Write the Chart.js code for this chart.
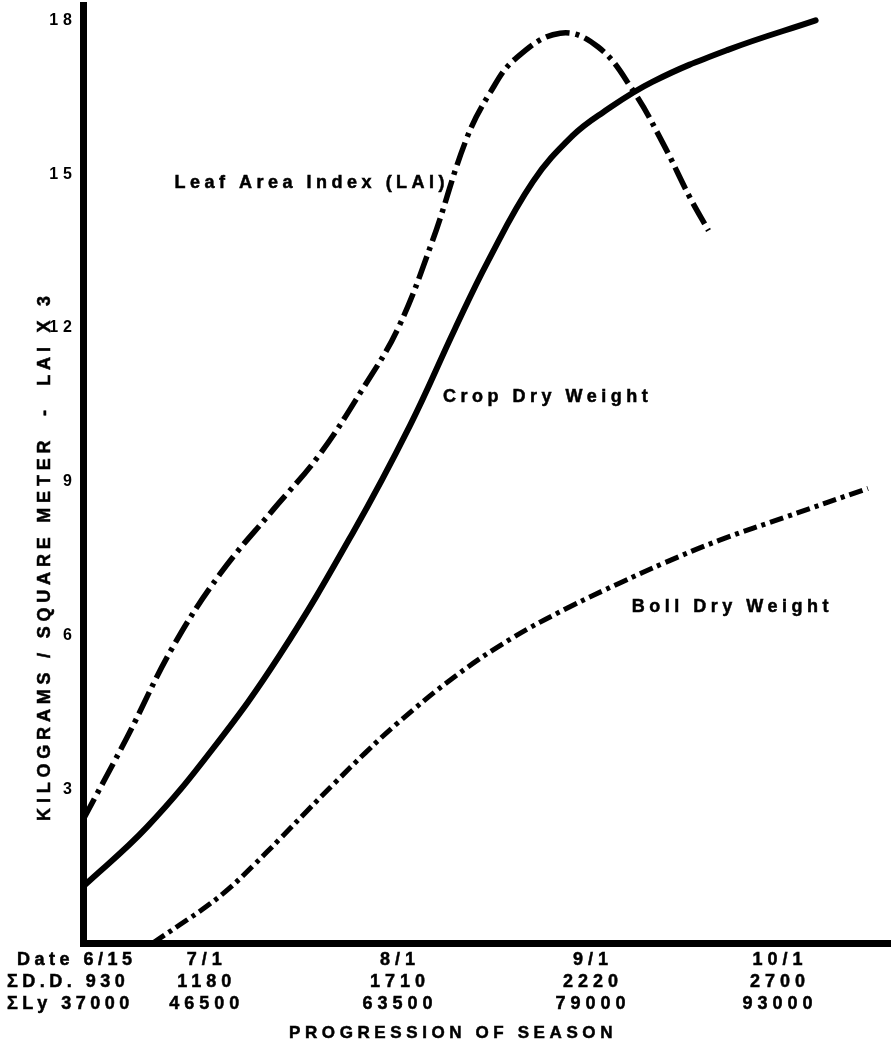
<!DOCTYPE html>
<html>
<head>
<meta charset="utf-8">
<script src="https://cdn.jsdelivr.net/npm/chart.js@4.4.1/dist/chart.umd.min.js"></script>
<style>
  html, body { margin: 0; padding: 0; background: #fff; }
  #wrap { width: 891px; height: 1048px; }
</style>
</head>
<body>
<div id="wrap"><canvas id="chart" width="891" height="1048"></canvas></div>
<script>
const FONT = "'Liberation Sans', Arial, sans-serif";

// x is days since 6/15
const tickDays = [0, 16, 47, 78, 108];
const dateLabels = ["6/15", "7/1", "8/1", "9/1", "10/1"];
const degreeDays = ["930", "1180", "1710", "2220", "2700"];
const langleys = ["37000", "46500", "63500", "79000", "93000"];
const yTicks = [3, 6, 9, 12, 15, 18];

const cropDays = [-3.4, 6.85, 17.5, 28.2, 39.9, 49.1, 56.3, 61.6, 68.8, 75.2, 80, 88, 100, 114.2];
const cropDry  = [1.1, 2.26, 3.8, 5.62, 8.0, 10.1, 11.98, 13.3, 14.85, 15.75, 16.2, 16.8, 17.42, 18.0];

const laiDays = [-3.4, 3.7, 11.0, 18.6, 27.1, 34.4, 41.7, 47.2, 52.7, 58.2, 62, 66, 73.2, 79.3, 84.9, 89.7, 94, 97];
const lai      = [2.4, 4.02, 5.77, 7.2, 8.45, 9.5, 10.85, 12.0, 13.7, 15.7, 16.6, 17.25, 17.75, 17.48, 16.63, 15.6, 14.55, 13.9];

const bollDays = [7.8, 12.2, 16.5, 20.2, 24, 28.2, 32.6, 37, 42, 47, 56.3, 65.5, 74.6, 82.7, 90, 98.8, 109.6, 122.6];
const boll     = [0, 0.36, 0.72, 1.08, 1.52, 2.03, 2.58, 3.12, 3.72, 4.28, 5.2, 5.95, 6.55, 7.02, 7.42, 7.86, 8.32, 8.87];

const seriesNames = ["Crop Dry Weight", "Leaf Area Index (LAI)", "Boll Dry Weight"];

// where the curve names sit (data units)
const curveLabels = [
  { text: "Leaf Area Index (LAI)", x: 11.3, y: 14.82 },
  { text: "Crop Dry Weight", x: 54.4, y: 10.65 },
  { text: "Boll Dry Weight", x: 84.7, y: 6.55 }
];

const toPts = (xs, ys) => xs.map((x, i) => ({ x: x, y: ys[i] }));

function spacedText(ctx, text, x, y, spacing, align) {
  ctx.save();
  ctx.letterSpacing = spacing + "px";
  ctx.textAlign = align || "left";
  ctx.fillText(text, x, y);
  ctx.strokeText(text, x, y);
  ctx.restore();
}

const textPlugin = {
  id: "textPlugin",
  beforeDraw(chart) {
    chart.ctx.letterSpacing = "5px";
  },
  afterDraw(chart) {
    const ctx = chart.ctx;
    const xs = chart.scales.x;
    const ys = chart.scales.y;
    const area = chart.chartArea;
    ctx.save();
    ctx.letterSpacing = "0px";
    ctx.fillStyle = "#000";
    ctx.strokeStyle = "#000";
    ctx.lineWidth = 0.5;
    ctx.textBaseline = "middle";
    ctx.font = "bold 18px " + FONT;

    // bottom table of labels
    const rows = [area.bottom + 17, area.bottom + 39, area.bottom + 61];
    spacedText(ctx, "Date " + dateLabels[0], area.left - 66, rows[0], 4.5);
    spacedText(ctx, "\u03A3D.D. " + degreeDays[0], area.left - 76, rows[1], 4.5);
    spacedText(ctx, "\u03A3Ly " + langleys[0], area.left - 76, rows[2], 4.5);
    for (let i = 1; i < tickDays.length; i++) {
      const px = xs.getPixelForValue(tickDays[i]) + 3;
      spacedText(ctx, dateLabels[i], px, rows[0], 5, "center");
      spacedText(ctx, degreeDays[i], px, rows[1], 5, "center");
      spacedText(ctx, langleys[i], px, rows[2], 5, "center");
    }
    ctx.font = "bold 17px " + FONT;
    spacedText(ctx, "PROGRESSION OF SEASON", xs.getPixelForValue(56), area.bottom + 90, 4.6, "center");

    // curve names
    ctx.font = "bold 18px " + FONT;
    curveLabels.forEach(l => {
      spacedText(ctx, l.text, xs.getPixelForValue(l.x), ys.getPixelForValue(l.y), 4.5);
    });

    // y axis title
    ctx.translate(45, ys.getPixelForValue(7.55));
    ctx.rotate(-Math.PI / 2);
    spacedText(ctx, "KILOGRAMS / SQUARE METER  -  LAI X 3", 0, 0, 4.8, "center");
    ctx.restore();
    ctx.letterSpacing = "0px";
  }
};

new Chart(document.getElementById("chart"), {
  type: "line",
  data: {
    datasets: [
      {
        label: seriesNames[0],
        data: toPts(cropDays, cropDry),
        borderColor: "#000",
        borderWidth: 6,
        tension: 0.4,
        borderCapStyle: "round"
      },
      {
        label: seriesNames[1],
        data: toPts(laiDays, lai),
        borderColor: "#000",
        borderWidth: 5.5,
        borderDash: [24, 6, 4, 6],
        tension: 0.4
      },
      {
        label: seriesNames[2],
        data: toPts(bollDays, boll),
        borderColor: "#000",
        borderWidth: 5,
        borderDash: [14, 5, 4, 5],
        tension: 0.4
      }
    ]
  },
  options: {
    responsive: false,
    animation: false,
    layout: { padding: { top: 5, right: 0, left: 0, bottom: 0 } },
    elements: { point: { radius: 0 } },
    plugins: { legend: { display: false }, tooltip: { enabled: false } },
    scales: {
      x: {
        type: "linear",
        min: -3.4,
        max: 126.3,
        grid: { display: false, drawTicks: false },
        border: { display: true, color: "#000", width: 7 },
        ticks: { display: false },
        afterFit: s => { s.height = 105; s.paddingLeft = 0; s.paddingRight = 0; }
      },
      y: {
        min: 0,
        max: 18.3,
        grid: { display: false, drawTicks: false },
        border: { display: true, color: "#000", width: 7 },
        ticks: {
          color: "#000",
          padding: 6,
          font: { family: FONT, size: 16, weight: "bold" }
        },
        afterBuildTicks: s => { s.ticks = yTicks.map(v => ({ value: v })); },
        afterFit: s => { s.width = 83; s.paddingTop = 0; s.paddingBottom = 0; }
      }
    }
  },
  plugins: [textPlugin]
});
</script>
</body>
</html>
